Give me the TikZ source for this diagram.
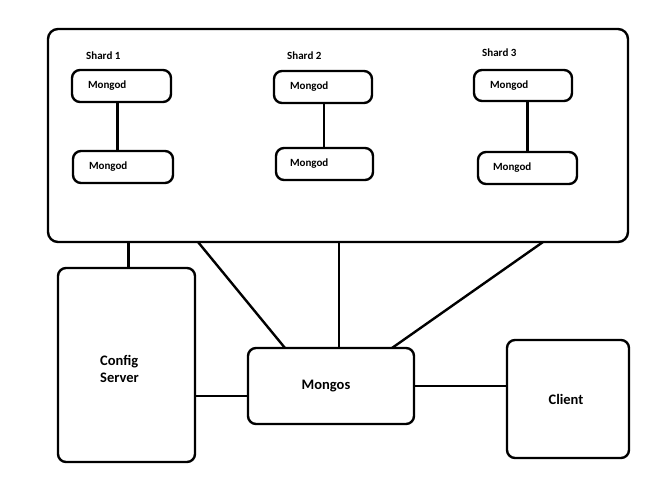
\documentclass[tikz,border=0pt]{standalone}
\usepackage{fontspec}
\setmainfont{Carlito}
\begin{document}
\begin{tikzpicture}[x=1pt,y=-1pt,
  line width=2.4pt, line join=round,
  box/.style={draw, rounded corners=8pt, inner sep=0pt, outer sep=0pt},
  mongod/.style={box, minimum height=32pt, align=left, inner xsep=16pt,
     font=\fontsize{11}{13}\selectfont\bfseries},
  bigtxt/.style={font=\fontsize{14.5}{17}\selectfont\bfseries},
  small/.style={font=\fontsize{11}{13}\selectfont\bfseries, inner sep=0pt, anchor=west},
  conn/.style={draw, line width=2.4pt}]
\useasboundingbox (0,0) rectangle (646,496);
% main shard container
\node[box, rounded corners=10pt, minimum width=580pt, minimum height=213pt] (main) at (338,135.5) {};
% shard labels
\node[small] (sh1) at (85,56) {Shard 1};
\node[small] (sh2) at (286,56) {Shard 2};
\node[small] (sh3) at (481,53) {Shard 3};
% mongod boxes
\node[mongod, text width=67pt] (s1a) at (121.5,86) {Mongod};
\node[mongod, text width=68pt] (s1b) at (123,167) {Mongod};
\node[mongod, text width=66pt] (s2a) at (323,87) {Mongod};
\node[mongod, text width=69pt, inner xsep=14pt] (s2b) at (324.5,164) {Mongod};
\node[mongod, text width=66pt, minimum height=31pt] (s3a) at (523,85.5) {Mongod};
\node[mongod, text width=69pt, inner xsep=15pt] (s3b) at (527.5,168) {Mongod};
% replica connectors
\draw[conn] ([xshift=-4pt]s1a.south) -- ([xshift=-4pt]s1a.south |- s1b.north);
\draw[conn] ([xshift=1pt]s2a.south) -- ([xshift=1pt]s2a.south |- s2b.north);
\draw[conn] (s3b.north) -- (s3b.north |- s3a.south);
% lower boxes
\node[box, minimum width=137pt, minimum height=194pt] (cfg) at (126.5,365) {};
\node[bigtxt, align=left, anchor=north west, inner sep=0pt] (cfgt) at (99,354) {Config\\Server};
\node[box, bigtxt, minimum width=166pt, minimum height=76pt] (mongos) at (331,386) {\raisebox{2pt}{Mongos}\hspace*{10pt}};
\node[box, bigtxt, minimum width=122pt, minimum height=118pt] (client) at (568,399) {Client\hspace*{4pt}};
% connectors
\draw[conn] ([xshift=2pt]cfg.north) -- ([xshift=2pt]cfg.north |- main.south);
\draw[conn] ([xshift=-140pt]main.south) -- ([xshift=-46pt]mongos.north);
\draw[conn] ([xshift=8pt]mongos.north) -- ([xshift=8pt]mongos.north |- main.south);
\draw[conn] ([xshift=205pt]main.south) -- ([xshift=61pt]mongos.north);
\draw[conn] ([yshift=-10pt]mongos.west) -- ([yshift=-10pt]mongos.west -| cfg.east);
\draw[conn] (mongos.east) -- (mongos.east -| client.west);
\end{tikzpicture}
\end{document}
